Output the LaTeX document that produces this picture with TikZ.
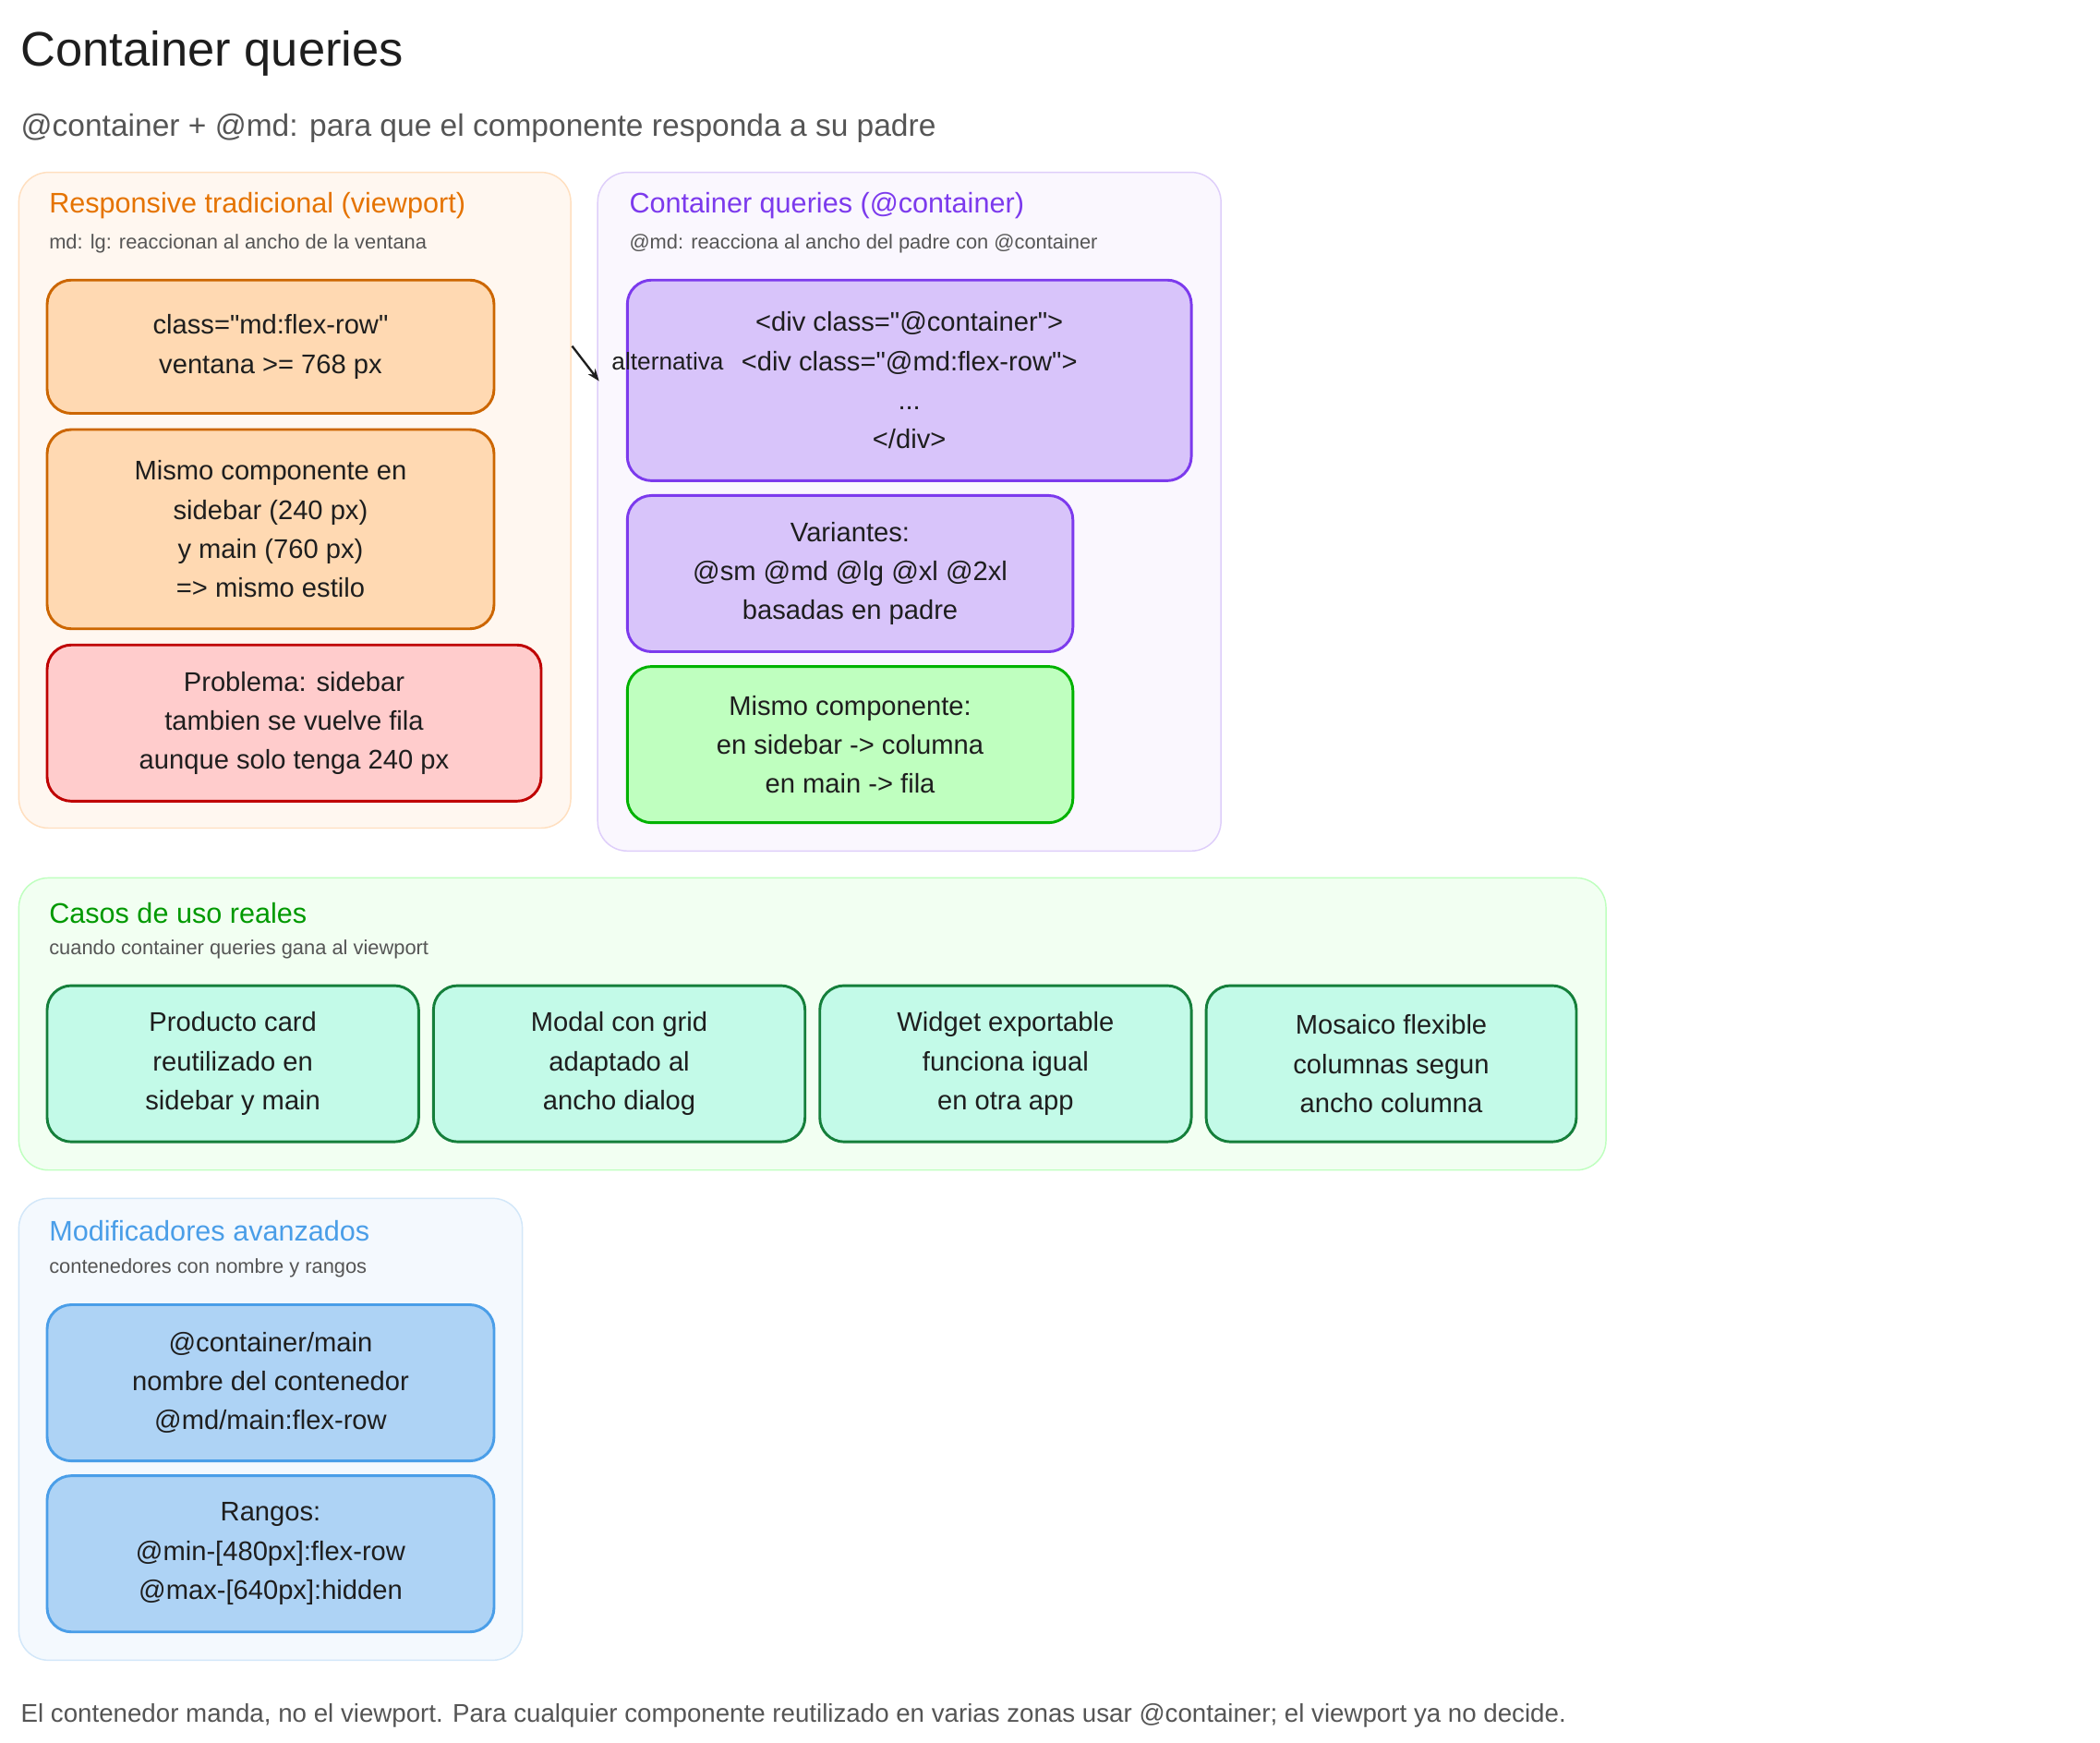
\documentclass[tikz,border=0pt]{standalone}
\usepackage{fontspec}
\setmainfont{Liberation Sans}[Ligatures=TeXOff]
\usetikzlibrary{arrows.meta}
\definecolor{ink}{HTML}{1e1e1e}
\definecolor{gr}{HTML}{555555}
\definecolor{mint}{HTML}{c3fae8}
\tikzset{
 panel/.style={rounded corners=22pt,line width=1pt},
 box/.style={rounded corners=18pt,line width=2pt},
 btxt/.style={align=center,font=\fontsize{20}{29}\selectfont,text=ink},
 ptitle/.style={anchor=west,font=\fontsize{21}{24}\selectfont},
 psub/.style={anchor=west,font=\fontsize{15}{17}\selectfont,text=gr},
}
\begin{document}
\begin{tikzpicture}[x=1pt,y=-1pt]
\useasboundingbox (0,0) rectangle (1560,1294);
\fill[white] (0,0) rectangle (1560,1294);
\node[anchor=west,font=\fontsize{36}{40}\selectfont,text=ink] (title) at (12,40) {Container queries};
\node[anchor=west,font=\fontsize{23}{26}\selectfont,text=gr] (sub) at (12,95) {@container + @md: para que el componente responda a su padre};
% panel 1
\draw[panel,fill=orange!6,draw=orange!25] (14,128) rectangle (424,615);
\node[ptitle,text=orange!90!black] (p1t) at (33,153) {Responsive tradicional (viewport)};
\node[psub] (p1s) at (33,181) {md: lg: reaccionan al ancho de la ventana};
\draw[box,fill=orange!30,draw=orange!80!black] (35,208) rectangle (367,307) node[midway,btxt] (a1) {class="md:flex-row"\\ventana >= 768 px};
\draw[box,fill=orange!30,draw=orange!80!black] (35,319) rectangle (367,467) node[midway,btxt] (a2) {Mismo componente en\\sidebar (240 px)\\y main (760 px)\\=> mismo estilo};
\draw[box,fill=red!20,draw=red!75!black] (35,479) rectangle (402,595) node[midway,btxt] (a3) {Problema: sidebar\\tambien se vuelve fila\\aunque solo tenga 240 px};
% panel 2
\definecolor{vio}{HTML}{7c3aed}
\draw[panel,fill=vio!4,draw=vio!25] (444,128) rectangle (907,632);
\node[ptitle,text=vio] (p2t) at (464,153) {Container queries (@container)};
\node[psub] (p2s) at (464,181) {@md: reacciona al ancho del padre con @container};
\draw[box,fill=vio!30,draw=vio] (466,208) rectangle (885,357) node[midway,btxt] (b1) {<div class="@container">\\<div class="@md:flex-row">\\...\\</div>};
\draw[box,fill=vio!30,draw=vio] (466,368) rectangle (797,484) node[midway,btxt] (b2) {Variantes:\\@sm @md @lg @xl @2xl\\basadas en padre};
\draw[box,fill=green!25,draw=green!70!black] (466,495) rectangle (797,611) node[midway,btxt] (b3) {Mismo componente:\\en sidebar -> columna\\en main -> fila};
\coordinate (s) at (425,257); \coordinate (e) at (445,283);
\draw[-{Stealth[length=9pt]},line width=1.6pt,ink] (s) -- (e);
\node[font=\fontsize{18}{20}\selectfont,text=ink] (alt) at (496,268) {alternativa};
% panel 3
\definecolor{dg}{HTML}{157f3b}
\draw[panel,fill=green!5,draw=green!25] (14,652) rectangle (1193,869);
\node[ptitle,text=green!60!black] (p3t) at (33,678) {Casos de uso reales};
\node[psub] (p3s) at (33,705) {cuando container queries gana al viewport};
\draw[box,fill=mint,draw=dg] (35,732) rectangle (311,848) node[midway,btxt] (c1) {Producto card\\reutilizado en\\sidebar y main};
\draw[box,fill=mint,draw=dg] (322,732) rectangle (598,848) node[midway,btxt] (c2) {Modal con grid\\adaptado al\\ancho dialog};
\draw[box,fill=mint,draw=dg] (609,732) rectangle (885,848) node[midway,btxt] (c3) {Widget exportable\\funciona igual\\en otra app};
\draw[box,fill=mint,draw=dg] (896,732) rectangle (1171,848) node[midway,btxt] (c4) {Mosaico flexible\\columnas segun\\ancho columna};
% panel 4
\definecolor{bl}{HTML}{4a9ee8}
\draw[panel,fill=bl!6,draw=bl!25] (14,890) rectangle (388,1233);
\node[ptitle,text=bl] (p4t) at (33,914) {Modificadores avanzados};
\node[psub] (p4s) at (33,942) {contenedores con nombre y rangos};
\draw[box,fill=bl!45,draw=bl] (35,969) rectangle (367,1085) node[midway,btxt] (d1) {@container/main\\nombre del contenedor\\@md/main:flex-row};
\draw[box,fill=bl!45,draw=bl] (35,1096) rectangle (367,1212) node[midway,btxt] (d2) {Rangos:\\@min-[480px]:flex-row\\@max-[640px]:hidden};
\node[anchor=west,font=\fontsize{19}{22}\selectfont,text=gr] (foot) at (12,1274) {El contenedor manda, no el viewport. Para cualquier componente reutilizado en varias zonas usar @container; el viewport ya no decide.};
\end{tikzpicture}
\end{document}
